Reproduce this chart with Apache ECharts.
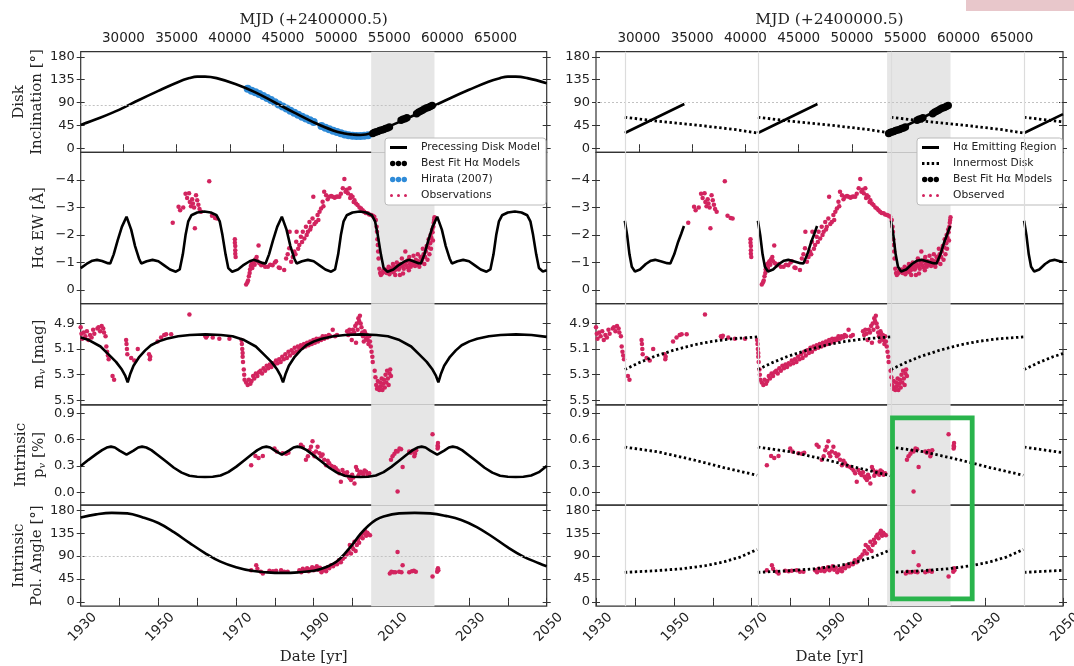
<!DOCTYPE html>
<html>
<head>
<meta charset="utf-8">
<script src="https://cdn.jsdelivr.net/npm/echarts@6/dist/echarts.min.js"></script>
<style>html,body{margin:0;padding:0;background:#fff}#chart{width:1074px;height:666px}</style>
</head>
<body>
<div id="chart"></div>
<script>
// ---- tick labels ----
var incTicks = [0, 45, 90, 135, 180];
var ewTicks = [-4, -3, -2, -1, 0];
var magTicks = [4.9, 5.1, 5.3, 5.5];
var polTicks = [0.0, 0.3, 0.6, 0.9];
var paTicks = [0, 45, 90, 135, 180];
var yearTicks = [1930, 1940, 1950, 1960, 1970, 1980, 1990, 2000, 2010, 2020, 2030, 2040, 2050];
var yearLabels = [1930, 1950, 1970, 1990, 2010, 2030, 2050];
var mjdTicks = [30000, 35000, 40000, 45000, 50000, 55000, 60000, 65000];

var shadedEpoch = [2004.8, 2021.1];
var cycleStarts = [1937.4, 1971.6, 2005.8, 2040.0];

// ---- left: precessing disk model ----
var incModel = [[1930,46],[1935,60],[1940,76],[1945,95],[1950,113],[1955,130],[1958,138],[1960,141],[1962,141],[1965,138],[1970,126],[1975,110],[1980,90],[1985,70],[1990,51],[1995,35],[1998,29],[2000,27],[2002,26],[2005,30],[2010,45],[2015,62],[2020,80],[2025,98],[2030,115],[2035,131],[2038,138],[2040,141],[2042,141],[2045,138],[2050,128]];
var hirata = [[1973,117],[1974,113],[1975,110],[1976,106.5],[1977,103],[1978,99],[1979,95],[1980,90.5],[1981,86],[1982,82],[1983,78],[1984,74],[1985,70],[1986,66],[1987,62],[1988,58.5],[1989,55],[1990,51.5],[1992,44],[1993,40.5],[1994,37.5],[1995,34.5],[1996,32],[1997,29.5],[1998,27],[1999,25.5],[2000,24.5],[2001,24],[2002,24],[2003,24.5],[2004,25.5]];
var bestFit = [[2005.2,29],[2005.6,31],[2006,32],[2006.5,33],[2007,35],[2007.5,36],[2008,37],[2008.5,39],[2009,40],[2009.5,42],[2012.5,55],[2013,57],[2013.5,58],[2014,60],[2016.5,68],[2017,71],[2017.5,73],[2018,75],[2018.5,77],[2019,79],[2019.5,80],[2020,82],[2020.5,84]];

var ewModel = [[1930,-0.80],[1931.5,-0.95],[1933,-1.07],[1934.2,-1.10],[1935.5,-1.06],[1937,-0.98],[1937.6,-0.97],[1938.5,-1.3],[1939.5,-1.8],[1940.6,-2.3],[1941.8,-2.67],[1943,-2.2],[1944,-1.6],[1945,-1.15],[1945.6,-0.97],[1947,-1.05],[1948.5,-1.10],[1950,-1.05],[1951.5,-0.9],[1953,-0.75],[1954.5,-0.67],[1955.5,-0.75],[1956.3,-1.3],[1957,-2.0],[1957.7,-2.5],[1958.5,-2.72],[1960,-2.82],[1961.8,-2.86],[1963.5,-2.82],[1965,-2.72],[1965.8,-2.5],[1966.5,-2.0],[1967.3,-1.3],[1968,-0.8],[1969,-0.67],[1970.5,-0.75],[1972,-0.92],[1973.5,-1.05],[1974.5,-1.10],[1975.5,-1.06],[1977,-0.98],[1977.6,-0.97],[1978.5,-1.3],[1979.5,-1.8],[1980.6,-2.3],[1981.8,-2.67],[1983,-2.2],[1984,-1.6],[1985,-1.15],[1985.6,-0.97],[1987,-1.05],[1988.5,-1.10],[1990,-1.05],[1991.5,-0.9],[1993,-0.75],[1994.5,-0.67],[1995.5,-0.75],[1996.3,-1.3],[1997,-2.0],[1997.7,-2.5],[1998.5,-2.72],[2000,-2.82],[2001.8,-2.86],[2003.5,-2.82],[2005,-2.72],[2005.8,-2.5],[2006.5,-2.0],[2007.3,-1.3],[2008,-0.8],[2009,-0.67],[2010.5,-0.75],[2012,-0.92],[2013.5,-1.05],[2014.5,-1.10],[2015.5,-1.06],[2017,-0.98],[2017.6,-0.97],[2018.5,-1.3],[2019.5,-1.8],[2020.6,-2.3],[2021.8,-2.67],[2023,-2.2],[2024,-1.6],[2025,-1.15],[2025.6,-0.97],[2027,-1.05],[2028.5,-1.10],[2030,-1.05],[2031.5,-0.9],[2033,-0.75],[2034.5,-0.67],[2035.5,-0.75],[2036.3,-1.3],[2037,-2.0],[2037.7,-2.5],[2038.5,-2.72],[2040,-2.82],[2041.8,-2.86],[2043.5,-2.82],[2045,-2.72],[2045.8,-2.5],[2046.5,-2.0],[2047.3,-1.3],[2048,-0.8],[2049,-0.68],[2050,-0.72]];

var magModel = [[1930,5.01],[1932.1,5.03],[1935.1,5.08],[1937.1,5.14],[1939.1,5.2],[1940.6,5.26],[1941.5,5.31],[1942.1,5.36],[1942.8,5.29],[1943.6,5.23],[1945.1,5.16],[1946.6,5.11],[1948.1,5.07],[1950.1,5.04],[1952.1,5.02],[1955.1,5.0],[1958.1,4.99],[1962.1,4.985],[1966.1,4.99],[1969.1,5.0],[1972.1,5.03],[1975.1,5.08],[1977.1,5.14],[1979.1,5.2],[1980.6,5.26],[1981.5,5.31],[1982.1,5.36],[1982.8,5.29],[1983.6,5.23],[1985.1,5.16],[1986.6,5.11],[1988.1,5.07],[1990.1,5.04],[1992.1,5.02],[1995.1,5.0],[1998.1,4.99],[2002.1,4.985],[2006.1,4.99],[2009.1,5.0],[2012.1,5.03],[2015.1,5.08],[2017.1,5.14],[2019.1,5.2],[2020.6,5.26],[2021.5,5.31],[2022.1,5.36],[2022.8,5.29],[2023.6,5.23],[2025.1,5.16],[2026.6,5.11],[2028.1,5.07],[2030.1,5.04],[2032.1,5.02],[2035.1,5.0],[2038.1,4.99],[2042.1,4.985],[2046.1,4.99],[2050,5.005]];

var polModel = [[1930,0.30],[1932,0.37],[1934,0.435],[1935.5,0.48],[1936.7,0.51],[1937.8,0.52],[1938.8,0.51],[1940,0.475],[1941.8,0.43],[1943.6,0.475],[1944.8,0.51],[1945.8,0.52],[1946.9,0.51],[1948.2,0.48],[1950,0.42],[1952,0.35],[1954,0.28],[1956,0.225],[1958,0.19],[1960,0.178],[1962,0.176],[1964,0.178],[1966,0.192],[1968,0.23],[1970,0.29],[1972,0.36],[1974,0.43],[1975.5,0.48],[1976.7,0.51],[1977.8,0.52],[1978.8,0.51],[1980,0.475],[1981.8,0.43],[1983.6,0.475],[1984.8,0.51],[1985.8,0.52],[1986.9,0.51],[1988.2,0.48],[1990,0.42],[1992,0.35],[1994,0.28],[1996,0.225],[1998,0.19],[2000,0.178],[2002,0.176],[2004,0.178],[2006,0.192],[2008,0.23],[2010,0.29],[2012,0.36],[2014,0.43],[2015.5,0.48],[2016.7,0.51],[2017.8,0.52],[2018.8,0.51],[2020,0.475],[2021.8,0.43],[2023.6,0.475],[2024.8,0.51],[2025.8,0.52],[2026.9,0.51],[2028.2,0.48],[2030,0.42],[2032,0.35],[2034,0.28],[2036,0.225],[2038,0.19],[2040,0.178],[2042,0.176],[2044,0.178],[2046,0.192],[2048,0.23],[2050,0.30]];

var paModel = [[1930,166],[1934,172],[1938,175],[1942,174],[1946,166],[1950,155],[1954,137],[1958,116],[1962,96],[1966,79],[1970,68],[1974,61],[1978,58],[1982,57],[1986,58],[1990,61],[1992,65],[1994,71],[1996,80],[1998,95],[2000,113],[2002,133],[2004,149],[2006,161],[2008,168],[2012,174],[2016,175],[2020,174],[2024,169],[2028,161],[2032,147],[2036,128],[2040,107],[2044,89],[2048,76],[2050,70]];

// ---- observations ----
var ewObs = [[1953.7,-2.45],[1955.2,-3.03],[1955.6,-2.9],[1956.4,-3.0],[1957.0,-3.5],[1957.4,-3.35],[1957.9,-3.52],[1958.1,-3.2],[1958.4,-3.05],[1958.7,-3.3],[1958.9,-3.15],[1959.2,-3.0],[1959.4,-2.25],[1959.7,-3.45],[1960.0,-3.27],[1960.3,-3.1],[1960.6,-2.95],[1961.0,-2.85],[1963.1,-3.96],[1963.8,-2.7],[1964.6,-2.62],[1965.1,-2.6],
[1969.7,-1.85],[1969.7,-1.72],[1969.8,-1.6],[1969.8,-1.45],[1969.8,-1.32],[1969.9,-1.2],
[1972.6,-0.2],[1972.9,-0.28],[1973.1,-0.35],[1973.3,-0.5],[1973.5,-0.62],[1973.6,-0.75],[1973.8,-0.88],[1974.0,-0.95],[1974.2,-0.8],[1974.4,-1.0],[1974.6,-1.05],[1974.8,-0.92],[1975.0,-1.12],[1975.3,-1.2],[1975.5,-1.05],[1975.8,-1.62],[1976.0,-0.98],[1976.5,-0.9],[1977.0,-0.95],[1977.5,-0.85],[1978.2,-0.85],[1978.8,-0.92],[1979.4,-0.9],[1980.0,-1.0],[1980.3,-1.05],[1981.0,-0.82],[1981.3,-0.8],[1982.4,-0.73],[1982.9,-1.15],[1983.3,-1.3],[1983.7,-1.52],[1983.8,-2.12],[1984.2,-1.03],[1984.6,-1.2],[1985.0,-1.4],[1985.3,-1.3],[1985.5,-1.76],[1985.6,-2.12],[1986.0,-1.5],[1986.3,-1.64],[1986.7,-1.94],[1987.0,-1.75],[1987.2,-2.12],[1987.6,-1.88],[1988.0,-2.3],[1988.2,-2.0],[1988.5,-2.12],[1988.9,-2.48],[1989.1,-2.2],[1989.3,-2.3],[1989.7,-2.6],[1989.9,-3.39],[1990.2,-2.4],[1990.6,-2.48],[1991.0,-2.73],[1991.2,-2.55],[1991.5,-2.85],[1991.9,-2.97],[1992.3,-3.21],[1992.5,-3.05],[1992.7,-3.58],[1993.2,-3.45],[1993.6,-3.3],[1994.0,-3.39],[1994.5,-3.42],[1994.9,-3.39],[1995.4,-3.36],[1995.8,-3.39],[1996.2,-3.4],[1996.6,-3.39],[1997.0,-3.5],[1997.5,-3.7],[1997.9,-4.04],[1998.2,-3.58],[1998.5,-3.65],[1998.8,-3.52],[1999.2,-3.7],[1999.4,-3.35],[1999.6,-3.45],[2000.0,-3.39],[2000.3,-3.2],[2000.5,-3.27],[2000.9,-3.15],[2001.3,-3.09],[2001.8,-3.0],[2002.2,-2.97],[2002.6,-2.9],[2003.0,-2.85],[2003.4,-2.8],[2003.9,-2.79],[2004.3,-2.75],[2004.8,-2.73],[2005.2,-2.7],[2005.6,-2.67],[2006.0,-2.55],[2006.2,-2.3],[2006.3,-2.12],[2006.4,-1.85],[2006.5,-1.64],[2006.6,-1.4],[2006.7,-1.15],[2006.9,-0.78],[2007.1,-0.62],[2007.3,-0.55],
[2007.6,-0.6],[2007.9,-0.7],[2008.2,-0.66],[2008.5,-0.75],[2008.8,-0.62],[2009.0,-0.72],[2009.3,-0.85],[2009.6,-0.8],[2009.9,-0.68],[2010.1,-0.78],[2010.4,-0.95],[2010.6,-0.85],[2010.9,-0.72],[2011.1,-0.82],[2011.4,-1.0],[2011.6,-0.9],[2011.9,-0.75],[2012.1,-0.8],[2012.2,-0.55],[2012.4,-0.95],[2012.7,-1.15],[2012.9,-0.88],[2013.2,-0.78],[2013.4,-1.0],[2013.6,-1.4],[2013.8,-0.9],[2014.0,-1.05],[2014.2,-0.82],[2014.4,-1.1],[2014.6,-1.2],[2014.8,-0.95],[2015.0,-0.85],[2015.2,-1.05],[2015.5,-0.92],[2015.7,-1.25],[2015.9,-1.0],[2016.1,-0.88],[2016.3,-1.1],[2016.6,-0.92],[2016.8,-1.3],[2017.0,-1.05],[2017.2,-0.85],[2017.5,-1.2],[2017.7,-1.0],[2017.9,-1.1],[2018.1,-1.5],[2018.3,-1.3],[2018.5,-0.95],[2018.7,-1.2],[2018.9,-1.4],[2019.1,-1.6],[2019.3,-1.1],[2019.5,-1.55],[2019.6,-1.85],[2019.8,-1.3],[2020.0,-1.7],[2020.1,-2.0],[2020.2,-1.5],[2020.3,-1.9],[2020.5,-2.2],[2020.6,-2.1],[2020.7,-1.8],[2020.8,-2.3],[2020.9,-2.45],[2021.0,-2.55],[2021.1,-2.65],[2011.0,-0.55],[2009.5,-0.58],[2010.5,-0.65],[2013.0,-0.6],[2014.5,-0.72]];

var magObs = [[1930.0,4.93],[1930.2,4.98],[1930.4,5.02],[1930.8,4.97],[1931.2,5.0],[1931.6,4.96],[1932.0,5.03],[1932.4,4.99],[1932.8,5.01],[1933.2,4.95],[1933.5,4.98],[1934.3,4.94],[1934.6,4.93],[1935.0,4.96],[1935.4,4.92],[1935.8,4.94],[1936.0,4.97],[1936.4,5.0],[1936.6,5.08],[1936.8,5.12],[1937.0,5.15],[1937.2,5.18],[1938.2,5.31],[1938.6,5.34],[1941.7,5.03],[1941.8,5.06],[1941.9,5.1],[1942.0,5.14],[1943.0,5.17],[1943.8,5.19],[1944.7,5.1],[1947.6,5.14],[1947.8,5.18],[1947.9,5.16],[1949.8,5.04],[1950.7,5.01],[1951.5,4.99],[1952.0,4.985],[1953.3,4.985],[1958.0,4.83],[1962.1,5.0],[1962.3,5.01],[1962.6,4.995],[1964.0,5.01],[1965.7,5.02],[1968.3,5.02],[1971.4,5.03],[1971.5,5.06],[1971.6,5.1],[1971.7,5.13],[1971.7,5.16],[1971.8,5.2],[1972.0,5.26],[1972.1,5.3],[1972.2,5.34],[1972.6,5.36],[1973.0,5.38],[1973.3,5.34],[1973.7,5.37],[1974.0,5.35],[1974.4,5.31],[1974.7,5.33],[1975.1,5.29],[1975.5,5.31],[1975.9,5.28],[1976.3,5.27],[1976.7,5.29],[1977.1,5.25],[1977.5,5.27],[1977.9,5.23],[1978.3,5.25],[1978.7,5.22],[1979.1,5.24],[1979.5,5.21],[1979.9,5.22],[1980.3,5.19],[1980.7,5.21],[1981.1,5.18],[1981.5,5.2],[1981.9,5.16],[1982.3,5.18],[1982.7,5.14],[1983.1,5.17],[1983.5,5.12],[1983.9,5.15],[1984.3,5.11],[1984.7,5.13],[1985.1,5.09],[1985.5,5.12],[1985.9,5.08],[1986.3,5.1],[1986.7,5.07],[1987.1,5.09],[1987.5,5.06],[1987.9,5.08],[1988.3,5.05],[1988.7,5.07],[1989.1,5.04],[1989.5,5.06],[1989.9,5.03],[1990.3,5.05],[1990.7,5.02],[1991.1,5.04],[1991.5,5.02],[1991.9,5.03],[1992.3,5.0],[1992.7,5.02],[1993.1,5.0],[1993.5,5.01],[1993.9,4.99],[1994.3,5.0],[1994.9,4.95],[1995.5,5.0],[1996.0,4.99],
[1998.6,4.96],[1998.9,4.99],[1999.2,4.95],[1999.5,4.98],[1999.8,5.03],[2000.1,4.95],[2000.4,4.97],[2000.7,4.92],[2000.9,5.05],[2001.1,4.9],[2001.3,4.95],[2001.5,4.86],[2001.7,4.88],[2001.9,4.84],[2002.1,4.9],[2002.3,4.93],[2002.5,4.97],[2002.7,5.0],[2002.9,5.04],[2003.1,4.96],[2003.3,4.98],[2003.5,5.02],[2003.7,4.99],[2003.9,5.03],[2004.1,5.06],[2004.3,5.0],[2004.5,5.04],[2004.7,5.08],[2004.9,5.12],[2005.1,5.16],[2005.2,5.2],
[2005.7,5.27],[2005.9,5.32],[2006.1,5.38],[2006.3,5.41],[2006.5,5.35],[2006.7,5.4],[2006.9,5.42],[2007.1,5.36],[2007.3,5.39],[2007.5,5.33],[2007.7,5.42],[2007.9,5.37],[2008.1,5.34],[2008.3,5.4],[2008.5,5.3],[2008.7,5.36],[2008.9,5.27],[2009.1,5.33],[2009.3,5.38],[2009.5,5.29],[2009.7,5.26],[2009.9,5.31]];

var polObs = [[1973.9,0.31],[1975.0,0.415],[1975.8,0.39],[1976.9,0.415],[1979.9,0.5],[1980.5,0.465],[1982.0,0.446],[1982.9,0.44],[1983.5,0.45],[1986.7,0.54],[1987.2,0.52],[1988.0,0.37],[1988.5,0.41],[1988.9,0.48],[1989.3,0.52],[1989.7,0.58],[1989.9,0.446],[1990.2,0.41],[1990.6,0.465],[1991.0,0.52],[1991.5,0.446],[1991.9,0.41],[1992.3,0.43],[1992.7,0.37],[1993.2,0.31],[1993.6,0.36],[1994.0,0.33],[1994.6,0.3],[1995.3,0.29],[1995.7,0.275],[1996.2,0.25],[1996.6,0.217],[1997.0,0.12],[1997.4,0.255],[1997.8,0.22],[1998.2,0.198],[1998.6,0.23],[1999.0,0.18],[1999.3,0.16],[1999.6,0.14],[1999.9,0.2],[2000.2,0.17],[2000.5,0.1],[2000.9,0.29],[2001.2,0.255],[2001.5,0.19],[2001.8,0.217],[2002.1,0.236],[2002.5,0.217],[2002.8,0.2],[2003.1,0.25],[2003.5,0.236],[2003.9,0.2],[2004.3,0.217],[2009.9,0.37],[2010.3,0.41],[2010.8,0.44],[2011.2,0.47],[2011.6,0.465],[2011.6,0.01],[2012.1,0.5],[2012.5,0.49],[2012.9,0.29],[2014.6,0.465],[2015.0,0.45],[2015.5,0.47],[2015.9,0.41],[2016.1,0.44],[2016.4,0.48],[2020.6,0.66],[2021.9,0.5],[2021.9,0.53],[2022.0,0.56],[2022.0,0.52]];

var paObs = [[1973.9,62],[1975.2,72],[1975.5,65],[1976.4,59],[1976.9,56],[1978.6,61],[1979.5,60],[1980.3,61],[1981.6,62],[1982.4,59],[1983.3,59],[1986.3,62],[1986.8,58],[1987.2,65],[1987.8,61],[1988.3,66],[1988.7,60],[1989.2,64],[1989.6,68],[1990.0,62],[1990.4,66],[1990.8,70],[1991.2,63],[1991.6,67],[1992.0,58],[1992.4,62],[1992.8,65],[1993.2,60],[1993.6,68],[1994.0,66],[1994.5,72],[1995.0,70],[1995.5,75],[1996.0,74],[1996.5,82],[1997.0,78],[1997.5,85],[1998.0,88],[1998.5,93],[1999.0,100],[1999.3,112],[1999.6,95],[1999.9,108],[2000.2,104],[2000.5,118],[2000.8,100],[2001.1,112],[2001.4,122],[2001.7,116],[2002.0,128],[2002.3,132],[2002.6,125],[2002.9,135],[2003.2,140],[2003.5,130],[2003.8,136],[2004.1,133],[2004.5,131],[2009.6,56],[2010.0,59],[2010.5,58],[2011.0,58],[2011.6,98],[2012.0,59],[2012.6,58],[2012.9,72],[2014.6,58],[2015.3,60],[2015.8,61],[2016.3,59],[2020.6,50],[2021.8,59],[2021.9,63],[2022.0,66],[2022.1,62]];

// ---- right: H-alpha emitting region (solid) and innermost disk (dotted) ----
var haIncl = [[1937.4,30],[1952.7,87],[1952.8,'-'],[1971.6,30],[1986.9,87],[1987,'-'],[2005.8,30],[2021.1,87],[2021.2,'-'],[2040,30],[2050,67]];
var innerIncl = [[1937.4,61],[1946,53],[1954,47],[1960,42],[1966,36.5],[1971.4,30],[1971.5,'-'],[1971.6,61],[1980.2,53],[1988.2,47],[1994.2,42],[2000.2,36.5],[2005.6,30],[2005.7,'-'],[2005.8,61],[2014.4,53],[2022.4,47],[2028.4,42],[2034.4,36.5],[2039.8,30],[2039.9,'-'],[2040,61],[2048.6,53],[2050,52]];
var haEW = [[1937.4,-2.52],[1938,-2.0],[1938.6,-1.3],[1939.2,-0.85],[1940,-0.68],[1941.3,-0.75],[1942.8,-0.95],[1944.1,-1.07],[1945.2,-1.1],[1946.6,-1.05],[1948.3,-0.98],[1949.1,-0.97],[1950.1,-1.3],[1951.1,-1.75],[1951.9,-2.05],[1952.6,-2.33],[1952.7,'-'],
[1971.6,-2.52],[1972.2,-2.0],[1972.8,-1.3],[1973.4,-0.85],[1974.2,-0.68],[1975.5,-0.75],[1977,-0.95],[1978.3,-1.07],[1979.4,-1.1],[1980.8,-1.05],[1982.5,-0.98],[1983.3,-0.97],[1984.3,-1.3],[1985.3,-1.75],[1986.1,-2.05],[1986.8,-2.33],[1986.9,'-'],
[2005.8,-2.52],[2006.4,-2.0],[2007,-1.3],[2007.6,-0.85],[2008.4,-0.68],[2009.7,-0.75],[2011.2,-0.95],[2012.5,-1.07],[2013.6,-1.1],[2015,-1.05],[2016.7,-0.98],[2017.5,-0.97],[2018.5,-1.3],[2019.5,-1.75],[2020.3,-2.05],[2021,-2.33],[2021.1,'-'],
[2040,-2.52],[2040.6,-2.0],[2041.2,-1.3],[2041.8,-0.85],[2042.6,-0.68],[2043.9,-0.75],[2045.4,-0.95],[2046.7,-1.07],[2047.8,-1.1],[2049.2,-1.05],[2050,-1.02]];
var innerMag = [[1937.4,5.26],[1940.8,5.21],[1944.8,5.16],[1949.8,5.11],[1954.8,5.07],[1959.8,5.04],[1964.8,5.02],[1971.4,5.005],[1971.5,'-'],
[1971.6,5.26],[1975,5.21],[1979,5.16],[1984,5.11],[1989,5.07],[1994,5.04],[1999,5.02],[2005.6,5.005],[2005.7,'-'],
[2005.8,5.26],[2009.2,5.21],[2013.2,5.16],[2018.2,5.11],[2023.2,5.07],[2028.2,5.04],[2033.2,5.02],[2039.8,5.005],[2039.9,'-'],
[2040,5.26],[2043.4,5.21],[2047.4,5.16],[2050,5.135]];
var innerPol = [[1937.4,0.515],[1946,0.46],[1955,0.37],[1963,0.28],[1971.4,0.195],[1971.5,'-'],
[1971.6,0.515],[1980.2,0.46],[1989.2,0.37],[1997.2,0.28],[2005.6,0.19],[2005.7,'-'],
[2005.8,0.515],[2014.4,0.46],[2023.4,0.37],[2031.4,0.28],[2039.8,0.195],[2039.9,'-'],
[2040,0.515],[2048.6,0.46],[2050,0.452]];
var innerPA = [[1937.4,58],[1945,61],[1952,65],[1958,71],[1963,79],[1967,88],[1971.4,103],[1971.5,'-'],
[1971.6,58],[1979.2,61],[1986.2,65],[1992.2,71],[1997.2,79],[2001.2,88],[2005.6,102],[2005.7,'-'],
[2005.8,58],[2013.4,61],[2020.4,65],[2026.4,71],[2031.4,79],[2035.4,88],[2039.8,103],[2039.9,'-'],
[2040,58],[2047.6,61],[2050,62]];

// ---------------------------------------------------------------
var SANS = 'DejaVu Sans', SERIF = 'DejaVu Serif', INK = '#222', PINK = '#d2245f', BLUE = '#2f8bd8';
var rowEdges = [51.7, 152.3, 303.6, 404.8, 505.2, 606.2];
var cols = [{left: 80.7, width: 466}, {left: 596, width: 467}];
var labelNudge = 14; // px: centres the rotated year labels under their ticks
function mjd(y) { return 51544.5 + (y - 2000) * 365.25; }
function plain(v) { return String(v); }
function signed(v) { return v < 0 ? '\u2212' + (-v) : String(v); }
function fixed1(v) { return v.toFixed(1); }

var rows = [
  {min: -8, max: 190, ticks: incTicks, inverse: false, fmt: plain, name: 'Disk\nInclination [\u00b0]'},
  {min: -5.01, max: 0.49, ticks: ewTicks, inverse: true, fmt: signed, name: 'H\u03b1 EW [\u00c5]'},
  {min: 4.745, max: 5.535, ticks: magTicks, inverse: true, fmt: fixed1, name: 'm{s|v} [mag]'},
  {min: -0.145, max: 0.995, ticks: polTicks, inverse: false, fmt: fixed1, name: 'Intrinsic\np{s|v} [%]'},
  {min: -8.5, max: 190, ticks: paTicks, inverse: false, fmt: plain, name: 'Intrinsic\nPol. Angle [\u00b0]'}
];

var grid = [], xAxis = [], yAxis = [];
var tickLine = {color: '#333', width: 1};
for (var c = 0; c < 2; c++) {
  for (var r = 0; r < 5; r++) {
    grid.push({left: cols[c].left, width: cols[c].width, top: rowEdges[r], height: rowEdges[r + 1] - rowEdges[r],
      show: true, borderColor: '#333', borderWidth: 1.2, backgroundColor: 'transparent', containLabel: false, outerBoundsMode: 'none'});
  }
}
for (var g = 0; g < 10; g++) {
  var bottom = g % 5 === 4;
  xAxis.push({gridIndex: g, type: 'value', min: 1930, max: 2050, position: 'bottom',
    axisLine: {show: false}, splitLine: {show: false}, axisLabel: {show: false},
    axisTick: {show: bottom, inside: false, length: 4, customValues: yearTicks, lineStyle: tickLine},
    name: bottom ? 'Date [yr]' : '', nameLocation: 'middle', nameGap: 43,
    nameTextStyle: {fontFamily: SERIF, fontSize: 15, color: INK}});
}
[4, 9].forEach(function (g) {
  xAxis.push({gridIndex: g, type: 'value', min: 1930, max: 2050, position: 'bottom',
    axisLine: {show: false}, splitLine: {show: false}, axisLabel: {show: false},
    axisTick: {inside: true, length: 4, customValues: yearTicks, lineStyle: tickLine}});
});
[0, 5].forEach(function (g) {
  xAxis.push({gridIndex: g, type: 'value', min: mjd(1930), max: mjd(2050), position: 'top',
    axisLine: {show: false}, splitLine: {show: false},
    axisTick: {inside: false, length: 4, customValues: mjdTicks, lineStyle: tickLine},
    axisLabel: {customValues: mjdTicks, formatter: plain, margin: 6, fontFamily: SANS, fontSize: 13.5, color: INK},
    name: 'MJD (+2400000.5)', nameLocation: 'middle', nameGap: 24,
    nameTextStyle: {fontFamily: SERIF, fontSize: 15.5, color: INK}});
  xAxis.push({gridIndex: g, type: 'value', min: mjd(1930), max: mjd(2050), position: 'top',
    axisLine: {show: false}, splitLine: {show: false}, axisLabel: {show: false},
    axisTick: {inside: true, length: 4, customValues: mjdTicks, lineStyle: tickLine}});
});
// y axes: 0-9 labelled left (outer ticks), 10-19 left inner ticks, 20-29 right inner, 30-39 right outer
[['left', false, true], ['left', true, false], ['right', true, false], ['right', false, false]].forEach(function (spec) {
  for (var g = 0; g < 10; g++) {
    var row = rows[g % 5];
    var ax = {gridIndex: g, type: 'value', min: row.min, max: row.max, inverse: row.inverse, position: spec[0], offset: 0,
      axisLine: {show: false}, splitLine: {show: false},
      axisTick: {inside: spec[1], length: 4, customValues: row.ticks, lineStyle: tickLine},
      axisLabel: {show: spec[2], customValues: row.ticks, formatter: row.fmt, margin: 6, fontFamily: SANS, fontSize: 13, color: INK}};
    if (spec[2] && g < 5) {
      ax.name = row.name; ax.nameLocation = 'middle'; ax.nameGap = 33;
      ax.nameTextStyle = {fontFamily: SERIF, fontSize: 15, lineHeight: 18, color: INK,
        rich: {s: {fontFamily: SERIF, fontSize: 10, fontStyle: 'italic', lineHeight: 18, verticalAlign: 'bottom', color: INK}}};
    }
    yAxis.push(ax);
  }
});
// label-only grids under the bottom row, nudged right so rotated year labels sit centred on the ticks
[0, 1].forEach(function (c) {
  var gIdx = grid.length;
  grid.push({left: cols[c].left + labelNudge, width: cols[c].width, top: rowEdges[4], height: rowEdges[5] - rowEdges[4],
    show: false, containLabel: false, outerBoundsMode: 'none'});
  xAxis.push({gridIndex: gIdx, type: 'value', min: 1930, max: 2050, position: 'bottom',
    axisLine: {show: false}, splitLine: {show: false}, axisTick: {show: false},
    axisLabel: {customValues: yearLabels, formatter: plain, rotate: 45, margin: 9,
      fontFamily: SANS, fontSize: 13.5, color: INK}});
  yAxis.push({gridIndex: gIdx, type: 'value', min: 0, max: 1, show: false});
});

function shade(g, hLine, vLines) {
  var ml = [];
  if (hLine != null) ml.push({yAxis: hLine, lineStyle: {color: '#c2c2c2', type: [2, 2], width: 1.2}});
  (vLines || []).forEach(function (x) { ml.push({xAxis: x, lineStyle: {color: '#dcdcdc', type: 'solid', width: 1.2}}); });
  var s = {type: 'line', xAxisIndex: g, yAxisIndex: g, data: [], silent: true, z: 1,
    markArea: {silent: true, itemStyle: {color: '#e6e6e6'}, data: [[{xAxis: shadedEpoch[0]}, {xAxis: shadedEpoch[1]}]]}};
  if (ml.length) s.markLine = {silent: true, symbol: ['none', 'none'], label: {show: false}, data: ml};
  return s;
}
function line(name, g, data, opt) {
  var s = {name: name, type: 'line', xAxisIndex: g, yAxisIndex: g, data: data, symbol: 'none', showSymbol: false,
    silent: true, z: 4, lineStyle: {color: '#000', width: 2.6}, itemStyle: {color: '#000'}};
  for (var k in (opt || {})) s[k] = opt[k];
  return s;
}
var dotted = {color: '#000', width: 2.8, type: [2.4, 2.6], cap: 'butt'};
function dots(name, g, data, color, size, z) {
  return {name: name, type: 'scatter', xAxisIndex: g, yAxisIndex: g, data: data, symbol: 'circle', symbolSize: size,
    silent: true, z: z, itemStyle: {color: color, opacity: 1}};
}

var series = [
  shade(0, 85), line('Precessing Disk Model', 0, incModel, {smooth: 0.4}), dots('Hirata (2007)', 0, hirata, BLUE, 8, 3), dots('Best Fit H\u03b1 Models', 0, bestFit, '#000', 7.5, 5),
  shade(1), dots('Observations', 1, ewObs, PINK, 4.5, 3), line('Precessing Disk Model', 1, ewModel),
  shade(2), dots('Observations', 2, magObs, PINK, 4.5, 3), line('Precessing Disk Model', 2, magModel),
  shade(3), dots('Observations', 3, polObs, PINK, 4.5, 3), line('Precessing Disk Model', 3, polModel),
  shade(4, 90), dots('Observations', 4, paObs, PINK, 4.5, 3), line('Precessing Disk Model', 4, paModel, {smooth: 0.4}),

  shade(5, 90, cycleStarts), line('H\u03b1 Emitting Region', 5, haIncl), line('Innermost Disk', 5, innerIncl, {lineStyle: dotted}), dots('Best Fit H\u03b1 Models', 5, bestFit, '#000', 7.5, 5),
  shade(6, null, cycleStarts), dots('Observed', 6, ewObs, PINK, 4.5, 3), line('H\u03b1 Emitting Region', 6, haEW),
  shade(7, null, cycleStarts), dots('Observed', 7, magObs, PINK, 4.5, 3), line('Innermost Disk', 7, innerMag, {lineStyle: dotted}),
  shade(8, null, cycleStarts), dots('Observed', 8, polObs, PINK, 4.5, 3), line('Innermost Disk', 8, innerPol, {lineStyle: dotted}),
  shade(9, null, cycleStarts), dots('Observed', 9, paObs, PINK, 4.5, 3), line('Innermost Disk', 9, innerPA, {lineStyle: dotted})
];

var solidIcon = 'path://M0,0h17v3h-17Z';
var dottedIcon = 'path://M0,0h2.5v3h-2.5ZM4.9,0h2.5v3h-2.5ZM9.8,0h2.5v3h-2.5ZM14.7,0h2.5v3h-2.5Z';
var bigDots = 'path://M0.2,3a2.8,2.8 0 1,0 5.6,0a2.8,2.8 0 1,0 -5.6,0ZM6.2,3a2.8,2.8 0 1,0 5.6,0a2.8,2.8 0 1,0 -5.6,0ZM12.2,3a2.8,2.8 0 1,0 5.6,0a2.8,2.8 0 1,0 -5.6,0Z';
var smallDots = 'path://M0.5,1.5a1.5,1.5 0 1,0 3,0a1.5,1.5 0 1,0 -3,0ZM7.5,1.5a1.5,1.5 0 1,0 3,0a1.5,1.5 0 1,0 -3,0ZM14.5,1.5a1.5,1.5 0 1,0 3,0a1.5,1.5 0 1,0 -3,0Z';
function legendBox(left, items) {
  return {left: left, top: 138, orient: 'vertical', itemGap: 3, itemWidth: 17, itemHeight: 10, padding: [3, 6, 3, 5],
    backgroundColor: '#fff', borderColor: '#bbb', borderWidth: 1, borderRadius: 3, selectedMode: false,
    textStyle: {fontFamily: SANS, fontSize: 10.7, lineHeight: 13, color: INK, padding: [0, 0, 0, 9]}, data: items};
}

var option = {
  animation: false,
  backgroundColor: '#fff',
  grid: grid, xAxis: xAxis, yAxis: yAxis, series: series,
  legend: [
    legendBox(385, [{name: 'Precessing Disk Model', icon: solidIcon}, {name: 'Best Fit H\u03b1 Models', icon: bigDots},
      {name: 'Hirata (2007)', icon: bigDots}, {name: 'Observations', icon: smallDots}]),
    legendBox(917, [{name: 'H\u03b1 Emitting Region', icon: solidIcon}, {name: 'Innermost Disk', icon: dottedIcon},
      {name: 'Best Fit H\u03b1 Models', icon: bigDots}, {name: 'Observed', icon: smallDots}])
  ],
  graphic: [
    {type: 'rect', shape: {x: 966, y: 0, width: 108, height: 11}, style: {fill: '#e8c7cb'}, z: 100},
    {type: 'rect', shape: {x: 892.5, y: 417.8, width: 79.7, height: 181}, style: {fill: 'none', stroke: '#29b44c', lineWidth: 4.8}, z: 100}
  ]
};

var myChart = echarts.init(document.getElementById('chart'));
myChart.setOption(option);
</script>
</body>
</html>
